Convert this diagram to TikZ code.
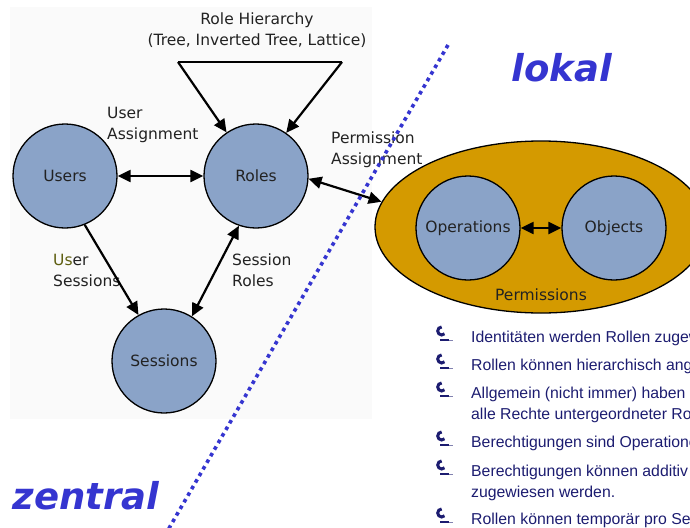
\documentclass[tikz,border=0pt]{standalone}
\usepackage{fontspec}
\setmainfont{DejaVu Sans}
\newfontfamily\listfont{Liberation Sans}
\newfontfamily\bigfont{DejaVu Sans}
\usetikzlibrary{arrows.meta,shapes.geometric,calc}
\definecolor{ballblue}{HTML}{8AA3C8}
\definecolor{permgold}{HTML}{D49A00}
\definecolor{labelgrey}{HTML}{222222}
\definecolor{zoneblue}{HTML}{3535D0}
\definecolor{listnavy}{HTML}{1C1C70}
\definecolor{paneltint}{HTML}{FAFAFA}
\tikzset{
  ball/.style={circle, draw=black, line width=1.3pt, fill=ballblue,
    minimum size=104pt, inner sep=0pt, text=labelgrey,
    font=\fontsize{15.5}{18}\selectfont},
  lbl/.style={text=labelgrey, font=\fontsize{15.5}{21}\selectfont,
    inner sep=0pt, align=left},
  link/.style={line width=2.2pt, -{Triangle[length=13pt,width=12pt]}},
  dlink/.style={line width=2.2pt,
    {Triangle[length=13pt,width=12pt]}-{Triangle[length=13pt,width=12pt]}},
  zone/.style={text=zoneblue, font=\bigfont\bfseries\itshape\fontsize{37}{40}\selectfont},
  item/.style={anchor=base west, text=listnavy, inner sep=0pt,
    font=\listfont\fontsize{15.8}{19}\selectfont},
}
% crescent-shaped list bullet, #1 = centre of its bowl
\newcommand{\moonbullet}[1]{%
  \draw[listnavy, line width=3pt] ($(#1)+(4.5,-3.2)$) arc[start angle=45, end angle=270, radius=4];
  \fill[listnavy] ($(#1)+(0,2.2)$) rectangle ($(#1)+(9,4.2)$);
  \fill[listnavy!55] ($(#1)+(9,2.6)$) rectangle ($(#1)+(13,4.2)$);
}
\begin{document}
\begin{tikzpicture}[x=1pt,y=-1pt]
\useasboundingbox (0,0) rectangle (690,527);
\clip (0,0) rectangle (690,527);
\fill[paneltint] (10,7) rectangle (372,419);

% role hierarchy triangle
\node[lbl, align=center] (hier) at (257,30) {Role Hierarchy\\(Tree, Inverted Tree, Lattice)};
\coordinate (hl) at (178,62);
\coordinate (hr) at (342,62);

% nodes of the model
\node[ball] (users) at (65,176) {Users};
\node[ball] (roles) at (256,176) {Roles};
\node[ball] (sessions) at (164,361) {Sessions};
\node[ellipse, draw=black, line width=1.3pt, fill=permgold,
      minimum width=332pt, minimum height=172pt, inner sep=0pt] (perm) at (541,227) {};
\node[ball] (ops) at (468,228) {Operations};
\node[ball] (objs) at (614,228) {Objects};
\node[lbl] (permlbl) at (541,295) {Permissions};

% labels of the relations
\node[lbl, anchor=west] (ua) at (107,125) {User\\Assignment};
\node[lbl, anchor=west] (pa) at (331,150) {Permission\\Assignment};
\node[lbl, anchor=west] (us) at (53,270) {\textcolor[HTML]{5E5E10}{Us}er\\Sessions};
\node[lbl, anchor=west] (sr) at (232,270) {Session\\Roles};

% connectors
\draw[line width=2.2pt, line join=miter] (hl) -- (hr);
\draw[link] (hl) -- (roles.124);
\draw[link] (hr) -- (roles.55);
\draw[dlink] (users.east) -- (roles.west);
\draw[link] (users.-68) -- (sessions.119);
\draw[dlink] (sessions.58) -- (roles.-109);
\draw[dlink] (roles.-3) -- (perm.171);
\draw[dlink] (ops.east) -- (objs.west);

% boundary between the two zones
\coordinate (bt) at (448,45);
\coordinate (bb) at (168,530);
\draw[zoneblue, line width=3.6pt, dash pattern=on 3.6pt off 4pt] (bt) -- (bb);
\node[zone] (lokal) at (562,68) {lokal};
\node[zone] (zentral) at (86,496) {zentral};

% list of statements
\foreach \y in {337,365,393,442,471,519} {\moonbullet{440,\y}}
\node[item] (t1) at (471,342) {Identitäten werden Rollen zugewiesen.};
\node[item] (t2) at (471,370) {Rollen können hierarchisch angeordnet werden.};
\node[item] (t3) at (471,398) {Allgemein (nicht immer) haben Rollen};
\node[item] (t3b) at (471,419) {alle Rechte untergeordneter Rollen.};
\node[item] (t4) at (471,447) {Berechtigungen sind Operationen auf Objekten.};
\node[item] (t5) at (471,476) {Berechtigungen können additiv Rollen};
\node[item] (t5b) at (471,497) {zugewiesen werden.};
\node[item] (t6) at (471,524) {Rollen können temporär pro Session aktiviert werden.};
\end{tikzpicture}
\end{document}
